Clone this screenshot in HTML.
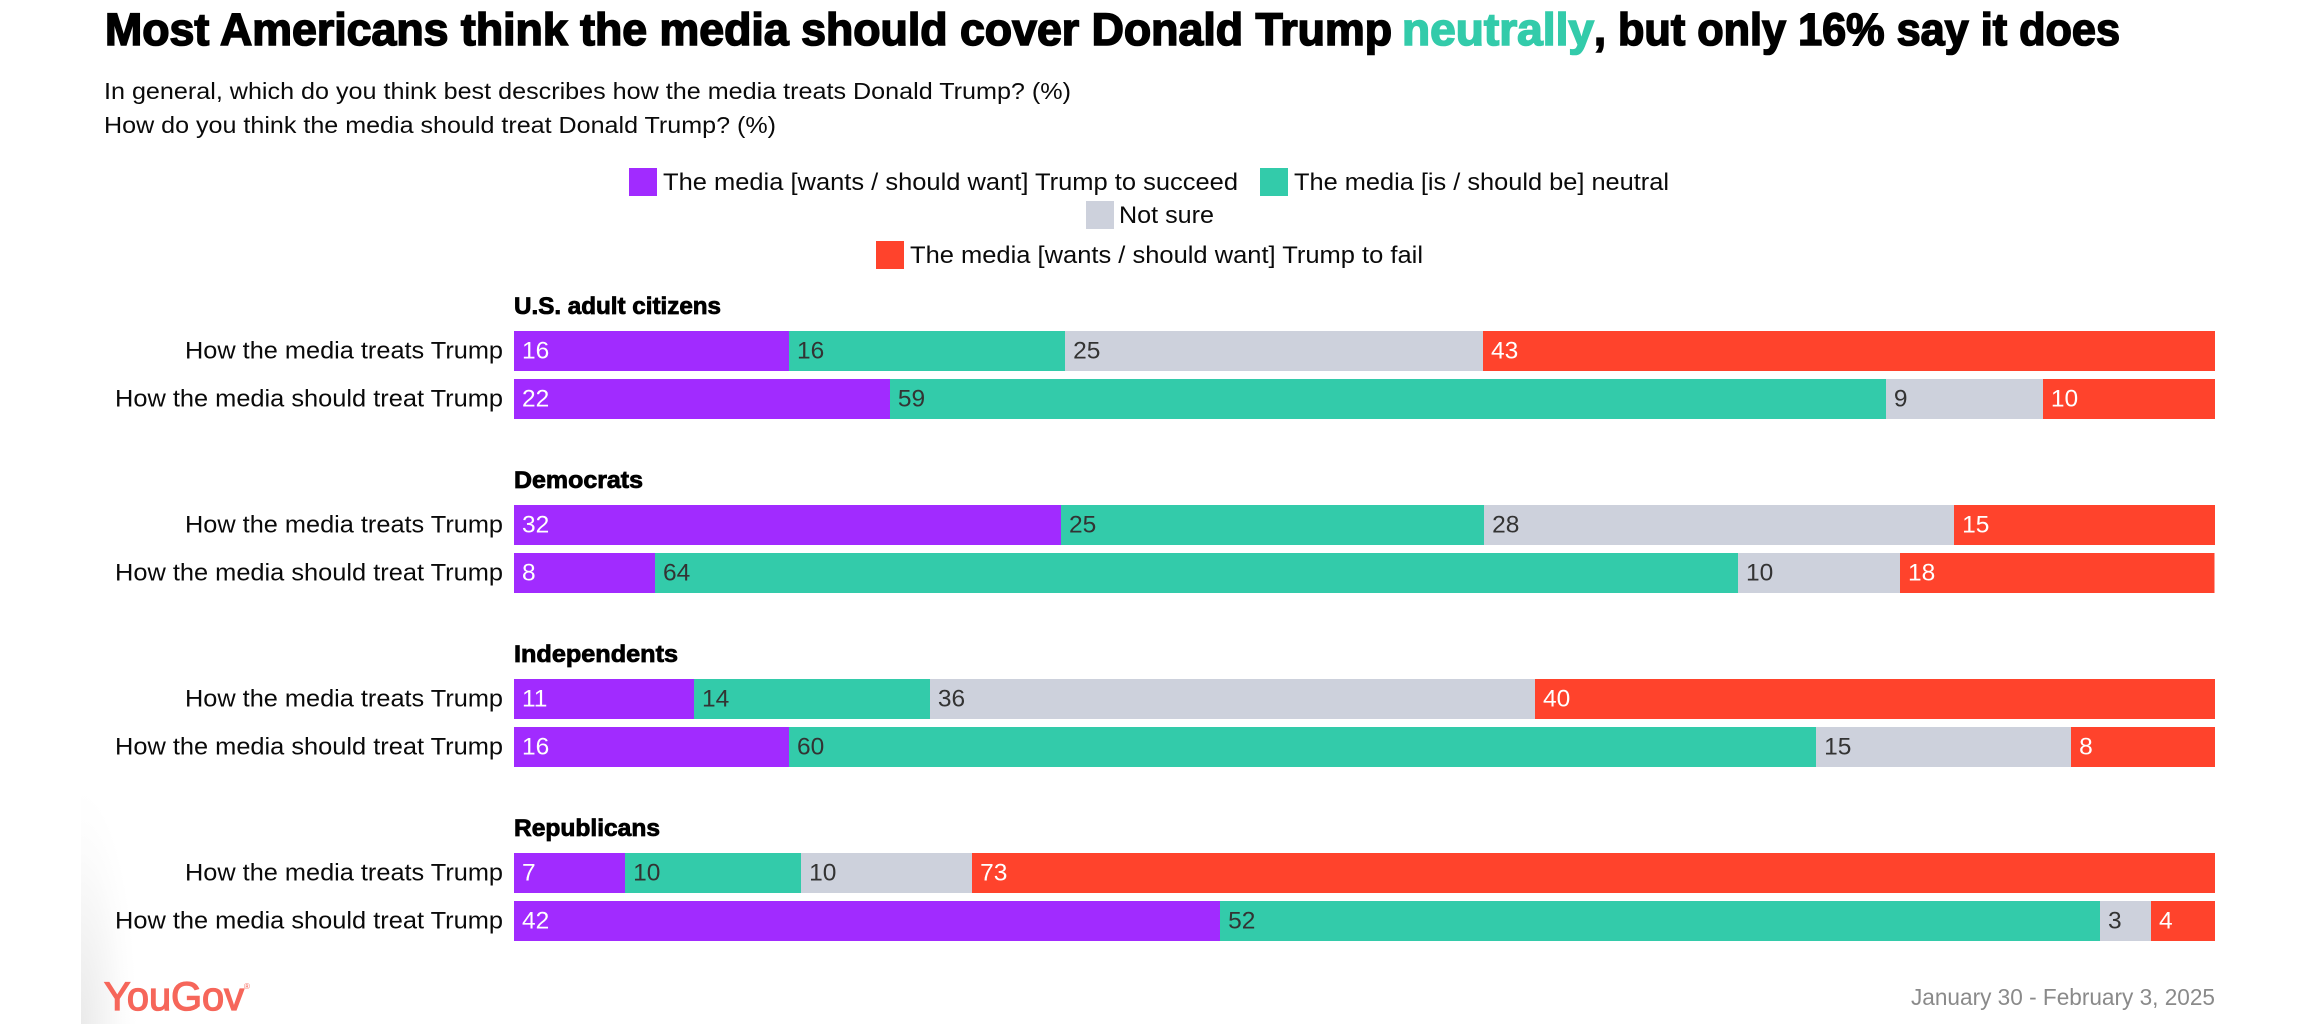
<!DOCTYPE html>
<html lang="en">
<head>
<meta charset="utf-8">
<title>Most Americans think the media should cover Donald Trump neutrally</title>
<style>
  html, body { margin: 0; padding: 0; background: #fff; width: 2307px; height: 1024px; overflow: hidden; }
  #edge-shadow { position: absolute; left: 81px; top: 790px; width: 70px; height: 234px;
    background: radial-gradient(ellipse 56px 234px at 0 100%, #eaeaea 0%, #f5f5f5 45%, #fcfcfc 75%, #fff 100%); }
  svg { position: absolute; left: 0; top: 0; display: block; }
  text { font-family: "Liberation Sans", Arial, sans-serif; }
  .title { font-size: 45px; font-weight: 700; stroke-width: 1.6px; paint-order: stroke; }
  .sub { font-size: 23.5px; fill: #0a0a0a; }
  .legend-text { font-size: 24.5px; fill: #0a0a0a; }
  .group-heading { font-size: 24px; font-weight: 700; fill: #000; stroke: #000; stroke-width: .8px; }
  .row-label { font-size: 24.5px; fill: #0a0a0a; }
  .value { font-size: 24.5px; }
</style>
</head>
<body>
<div id="edge-shadow"></div>
<svg id="chart" width="2307" height="1024" viewBox="0 0 2307 1024" xmlns="http://www.w3.org/2000/svg">
  <g>
    <text class="title" x="105" y="45" textLength="1287" lengthAdjust="spacingAndGlyphs" fill="#000" stroke="#000">Most Americans think the media should cover Donald Trump</text>
    <text class="title" x="1402" y="45" textLength="192" lengthAdjust="spacingAndGlyphs" fill="#33cbaa" stroke="#33cbaa">neutrally</text>
    <text class="title" x="1594" y="45" textLength="526" lengthAdjust="spacingAndGlyphs" fill="#000" stroke="#000">, but only 16% say it does</text>
  </g>
  <text class="sub" x="104" y="99" textLength="967" lengthAdjust="spacingAndGlyphs">In general, which do you think best describes how the media treats Donald Trump? (%)</text>
  <text class="sub" x="104" y="133" textLength="672" lengthAdjust="spacingAndGlyphs">How do you think the media should treat Donald Trump? (%)</text>

  <g>
    <g>
      <rect x="629" y="168" width="28" height="28" fill="#a12bff"></rect>
      <text class="legend-text" x="663" y="190" textLength="575" lengthAdjust="spacingAndGlyphs">The media [wants / should want] Trump to succeed</text>
    </g>
    <g>
      <rect x="1260" y="168" width="28" height="28" fill="#33cbaa"></rect>
      <text class="legend-text" x="1294" y="190" textLength="375" lengthAdjust="spacingAndGlyphs">The media [is / should be] neutral</text>
    </g>
    <g>
      <rect x="1086" y="201" width="28" height="28" fill="#cdd1dc"></rect>
      <text class="legend-text" x="1119" y="223" textLength="95" lengthAdjust="spacingAndGlyphs">Not sure</text>
    </g>
    <g>
      <rect x="876" y="241" width="28" height="28" fill="#ff432c"></rect>
      <text class="legend-text" x="910" y="263" textLength="513" lengthAdjust="spacingAndGlyphs">The media [wants / should want] Trump to fail</text>
    </g>
  </g>

  <g id="bars"></g>

  <g>
    <text x="104" y="1010" font-size="40" textLength="140" lengthAdjust="spacingAndGlyphs" fill="#f6665a" stroke="#f6665a" stroke-width="1.3">YouGov</text>
    <text x="244" y="989" font-size="8" fill="#f6665a">®</text>
  </g>
  <text x="1911" y="1005" font-size="23" fill="#8a8a8a" textLength="304" lengthAdjust="spacingAndGlyphs">January 30 - February 3, 2025</text>
</svg>

<script>
const groupNames = ['U.S. adult citizens', 'Democrats', 'Independents', 'Republicans'];
const rowNames = ['How the media treats Trump', 'How the media should treat Trump'];
const seriesNames = ['succeed', 'neutral', 'not-sure', 'fail'];

const citizensTreats = [16.17, 16.23, 24.57, 43.03];
const citizensShould = [22.10, 58.55, 9.23, 10.11];
const democratsTreats = [32.16, 24.87, 27.63, 15.34];
const democratsShould = [8.29, 63.67, 9.52, 18.49];
const independentsTreats = [10.58, 13.87, 35.57, 39.98];
const independentsShould = [16.17, 60.38, 14.99, 8.47];
const republicansTreats = [6.53, 10.35, 10.05, 73.07];
const republicansShould = [41.51, 51.73, 3.00, 3.76];

const groupRows = [
  [citizensTreats, citizensShould],
  [democratsTreats, democratsShould],
  [independentsTreats, independentsShould],
  [republicansTreats, republicansShould]
];

const SVG_NS = 'http://www.w3.org/2000/svg';
const seriesFill = { 'succeed': '#a12bff', 'neutral': '#33cbaa', 'not-sure': '#cdd1dc', 'fail': '#ff432c' };
const seriesInk = { 'succeed': '#ffffff', 'neutral': '#333333', 'not-sure': '#333333', 'fail': '#ffffff' };
const headingSpan = { 'U.S. adult citizens': 207, 'Democrats': 129, 'Independents': 164, 'Republicans': 146 };
const rowLabelSpan = { 'How the media treats Trump': 318, 'How the media should treat Trump': 388 };

function xAxis(percent) { return 514 + percent * 17.01; }
function rowTop(groupIndex, rowIndex) { return 331 + groupIndex * 174 + rowIndex * 48; }

function make(tag, attrs, content) {
  const node = document.createElementNS(SVG_NS, tag);
  for (const key in attrs) node.setAttribute(key, attrs[key]);
  if (content !== undefined) node.textContent = content;
  return node;
}

const barsLayer = document.getElementById('bars');

groupNames.forEach(function (groupName, g) {
  const slug = groupName.toLowerCase().replace(/[^a-z]+/g, '-');
  const groupNode = make('g', {});
  
  

  const heading = make('text', {
    class: 'group-heading', x: 514, y: rowTop(g, 0) - 17,
    textLength: headingSpan[groupName], lengthAdjust: 'spacingAndGlyphs'
  }, groupName);
  
  
  groupNode.appendChild(heading);

  rowNames.forEach(function (rowName, r) {
    const top = rowTop(g, r);
    const label = make('text', {
      class: 'row-label', x: 503 - rowLabelSpan[rowName], y: top + 27.5,
      textLength: rowLabelSpan[rowName], lengthAdjust: 'spacingAndGlyphs'
    }, rowName);
    
    
    groupNode.appendChild(label);

    let running = 0;
    groupRows[g][r].forEach(function (value, s) {
      const series = seriesNames[s];
      const left = xAxis(running);
      const right = xAxis(running + value);
      const bar = make('rect', {
        x: left, y: top, width: right - left, height: 40,
        fill: seriesFill[series], 'shape-rendering': 'crispEdges'
      });
      
      
      groupNode.appendChild(bar);

      const printed = make('text', {
        class: 'value', x: left + 8, y: top + 27.5, fill: seriesInk[series]
      }, String(Math.round(value)));
      
      
      groupNode.appendChild(printed);

      running += value;
    });
  });

  barsLayer.appendChild(groupNode);
});
</script>
</body>
</html>
